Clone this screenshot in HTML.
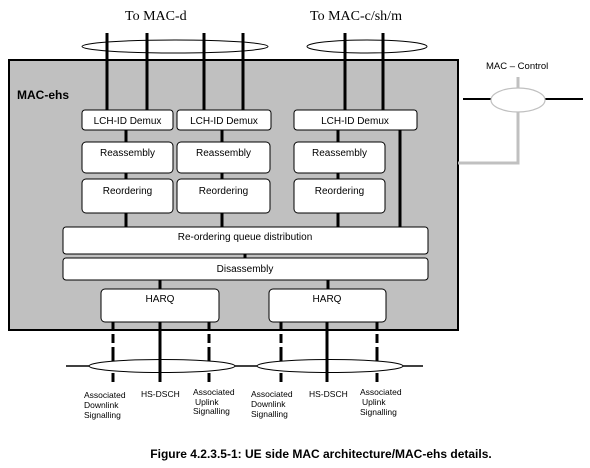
<!DOCTYPE html>
<html><head><style>
html,body{margin:0;padding:0;background:#fff;}
svg{display:block;}
.s{font-family:"Liberation Sans",Arial,sans-serif;font-size:10px;fill:#000;}
.l{font-family:"Liberation Sans",Arial,sans-serif;font-size:8.5px;fill:#000;}
</style></head><body>
<svg width="590" height="468" viewBox="0 0 590 468" xmlns="http://www.w3.org/2000/svg">
<text x="125" y="20" font-family="Liberation Serif,serif" font-size="14">To MAC-d</text>
<text x="310" y="20" font-family="Liberation Serif,serif" font-size="14">To MAC-c/sh/m</text>
<!-- main box -->
<rect x="9" y="60" width="449" height="270" fill="#c0c0c0" stroke="#000" stroke-width="2"/>
<text x="17" y="99" font-family="Liberation Sans,Arial,sans-serif" font-size="12" font-weight="bold">MAC-ehs</text>
<!-- top ellipses -->
<ellipse cx="175" cy="46.5" rx="93" ry="6.5" fill="#fff" stroke="#000" stroke-width="1"/>
<ellipse cx="367" cy="46.5" rx="60" ry="6.5" fill="#fff" stroke="#000" stroke-width="1"/>
<g stroke="#000" stroke-width="3">
<line x1="107" y1="33" x2="107" y2="110"/>
<line x1="147" y1="33" x2="147" y2="110"/>
<line x1="204" y1="33" x2="204" y2="110"/>
<line x1="243" y1="33" x2="243" y2="110"/>
<line x1="345" y1="33" x2="345" y2="110"/>
<line x1="383" y1="33" x2="383" y2="110"/>
<line x1="126" y1="130" x2="126" y2="228"/>
<line x1="222" y1="130" x2="222" y2="228"/>
<line x1="338" y1="130" x2="338" y2="228"/>
<line x1="400" y1="130" x2="400" y2="228"/>
<line x1="245" y1="253" x2="245" y2="259"/>
<line x1="160" y1="279" x2="160" y2="290"/>
<line x1="328" y1="279" x2="328" y2="290"/>
<line x1="160" y1="321" x2="160" y2="382"/>
<line x1="327" y1="321" x2="327" y2="382"/>
</g>
<g stroke="#000" stroke-width="3" stroke-dasharray="9,4">
<line x1="113" y1="321" x2="113" y2="382"/>
<line x1="209" y1="321" x2="209" y2="382"/>
<line x1="281" y1="321" x2="281" y2="382"/>
<line x1="377" y1="321" x2="377" y2="382"/>
</g>
<!-- boxes -->
<g fill="#fff" stroke="#000" stroke-width="1">
<rect x="82" y="110" width="91" height="20" rx="3"/>
<rect x="177" y="110" width="94" height="20" rx="3"/>
<rect x="294" y="110" width="123" height="20" rx="3"/>
<rect x="82" y="142" width="91" height="31" rx="4"/>
<rect x="177" y="142" width="93" height="31" rx="4"/>
<rect x="294" y="142" width="91" height="31" rx="4"/>
<rect x="82" y="179" width="91" height="34" rx="4"/>
<rect x="177" y="179" width="93" height="34" rx="4"/>
<rect x="294" y="179" width="91" height="34" rx="4"/>
<rect x="63" y="227" width="365" height="27" rx="3"/>
<rect x="63" y="258" width="365" height="22" rx="3"/>
<rect x="101" y="289" width="118" height="33" rx="4"/>
<rect x="269" y="289" width="117" height="33" rx="4"/>
</g>
<g class="s" text-anchor="middle">
<text x="127.5" y="124">LCH-ID Demux</text>
<text x="224" y="124">LCH-ID Demux</text>
<text x="355" y="124">LCH-ID Demux</text>
<text x="127.5" y="156">Reassembly</text>
<text x="223.5" y="156">Reassembly</text>
<text x="339.5" y="156">Reassembly</text>
<text x="127.5" y="194">Reordering</text>
<text x="223.5" y="194">Reordering</text>
<text x="339.5" y="194">Reordering</text>
<text x="245" y="240">Re-ordering queue distribution</text>
<text x="245" y="272">Disassembly</text>
<text x="160" y="302">HARQ</text>
<text x="327" y="302">HARQ</text>
</g>
<!-- bottom ellipses -->
<line x1="66" y1="366" x2="423" y2="366" stroke="#000" stroke-width="1.5"/>
<ellipse cx="162" cy="366" rx="73" ry="6.5" fill="#fff" stroke="#000" stroke-width="1"/>
<ellipse cx="330" cy="366" rx="73" ry="6.5" fill="#fff" stroke="#000" stroke-width="1"/>
<g stroke="#000" stroke-width="3">
<line x1="160" y1="358" x2="160" y2="382"/>
<line x1="327" y1="358" x2="327" y2="382"/>
<line x1="113" y1="373" x2="113" y2="382"/>
<line x1="209" y1="373" x2="209" y2="382"/>
<line x1="281" y1="373" x2="281" y2="382"/>
<line x1="377" y1="373" x2="377" y2="382"/>
<line x1="113" y1="352" x2="113" y2="360"/>
<line x1="209" y1="352" x2="209" y2="360"/>
<line x1="281" y1="352" x2="281" y2="360"/>
<line x1="377" y1="352" x2="377" y2="360"/>
</g>
<g class="l">
<text x="84" y="398">Associated</text><text x="84" y="408">Downlink</text><text x="84" y="418">Signalling</text>
<text x="141" y="397">HS-DSCH</text>
<text x="193" y="395">Associated</text><text x="195" y="405">Uplink</text><text x="193" y="414">Signalling</text>
<text x="251" y="397">Associated</text><text x="251" y="407">Downlink</text><text x="251" y="417">Signalling</text>
<text x="309" y="397">HS-DSCH</text>
<text x="360" y="395">Associated</text><text x="362" y="405">Uplink</text><text x="360" y="415">Signalling</text>
</g>
<!-- MAC control -->
<text x="486" y="69" font-family="Liberation Sans,Arial,sans-serif" font-size="9.5">MAC – Control</text>
<line x1="463" y1="99" x2="583" y2="99" stroke="#000" stroke-width="2"/>
<g stroke="#c0c0c0" stroke-width="3" fill="none">
<line x1="518" y1="77" x2="518" y2="90"/>
<polyline points="518,110 518,163 458,163"/>
</g>
<ellipse cx="518" cy="100" rx="27" ry="12" fill="#fff" stroke="#c0c0c0" stroke-width="1.2"/>
<text x="321" y="458" text-anchor="middle" font-family="Liberation Sans,Arial,sans-serif" font-size="12" font-weight="bold">Figure 4.2.3.5-1: UE side MAC architecture/MAC-ehs details.</text>
</svg>
</body></html>
